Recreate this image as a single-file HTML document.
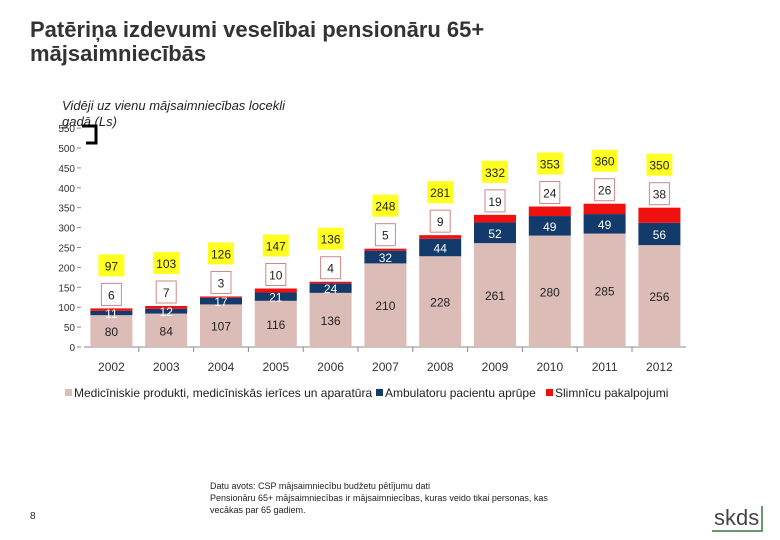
<!DOCTYPE html>
<html><head><meta charset="utf-8"><style>
body{margin:0;background:#fff;width:780px;height:540px;overflow:hidden;font-family:"Liberation Sans",sans-serif;position:relative}
.t{position:absolute}
</style></head><body>
<div class="t" style="left:30px;top:18px;font-size:22px;font-weight:bold;color:#333;line-height:24px">Patēriņa izdevumi veselībai pensionāru 65+<br>mājsaimniecībās</div>
<div class="t" style="left:62px;top:98px;font-size:13px;font-style:italic;color:#222;line-height:16px">Vidēji uz vienu mājsaimniecības locekli<br>gadā (Ls)</div>
<svg class="t" style="left:0;top:0" width="780" height="540">
<g id="g" font-family="Liberation Sans, sans-serif"></g>
</svg>
<div class="t" style="left:210px;top:480px;font-size:9px;color:#222;line-height:12px">Datu avots: CSP mājsaimniecību budžetu pētījumu dati<br>Pensionāru 65+ mājsaimniecības ir mājsaimniecības, kuras veido tikai personas, kas<br>vecākas par 65 gadiem.</div>
<div class="t" style="left:30px;top:511px;font-size:10px;color:#222">8</div>
<div class="t" style="left:712px;top:506px;font-size:22px;color:#444;line-height:24px;border-bottom:2px solid #6a9a6a;border-right:2px solid #6a9a6a;padding:0 2px">skds</div>
<script>
const years=["2002","2003","2004","2005","2006","2007","2008","2009","2010","2011","2012"];
const medical=[80,84,107,116,136,210,228,261,280,285,256];
const outpatient=[11,12,17,21,24,32,44,52,49,49,56];
const hospital=[6,7,3,10,4,5,9,19,24,26,38];
const totals=[97,103,126,147,136,248,281,332,353,360,350];
const yTicks=[0,50,100,150,200,250,300,350,400,450,500,550];
const ns="http://www.w3.org/2000/svg",g=document.getElementById('g');
const y=v=>347-v*0.398, x0=84, step=54.8, x=i=>x0+step*(i+0.5), bw=42;
function el(t,a,txt){const e=document.createElementNS(ns,t);for(const k in a)e.setAttribute(k,a[k]);if(txt!==undefined)e.textContent=txt;g.appendChild(e);return e;}
let ax=el('line',{x1:x0,x2:686,y1:347,y2:347,stroke:'#888'});


yTicks.forEach(v=>{let t=el('text',{x:75,y:y(v)+4,'font-size':10,'text-anchor':'end',fill:'#333'},v);


el('line',{x1:77,x2:81,y1:y(v),y2:y(v),stroke:'#888'});});
years.forEach((yr,i)=>{const cx=x(i),l=cx-bw/2;
let b1=el('rect',{x:l,y:y(medical[i]),width:bw,height:medical[i]*0.398,fill:'#dcbcb6'});


let b2=el('rect',{x:l,y:y(medical[i]+outpatient[i]),width:bw,height:outpatient[i]*0.398,fill:'#123a6a'});


const top=medical[i]+outpatient[i]+hospital[i];
let b3=el('rect',{x:l,y:y(top),width:bw,height:hospital[i]*0.398,fill:'#f01010'});


el('text',{x:cx,y:y(medical[i]/2)+5,'font-size':12,'text-anchor':'middle',fill:'#222'},medical[i]);
el('text',{x:cx,y:y(medical[i]+outpatient[i]/2)+5,'font-size':12,'text-anchor':'middle',fill:'#fff'},outpatient[i]);
const ry=y(top)-13;
el('rect',{x:cx-10,y:ry-12,width:20,height:22,fill:'#fff',stroke:'#c88','stroke-width':1});
el('text',{x:cx,y:ry+4,'font-size':12,'text-anchor':'middle',fill:'#222'},hospital[i]);
const ty=y(top)-42;
let yb=el('rect',{x:cx-13,y:ty-12,width:26,height:22,fill:'#ffff22'});


el('text',{x:cx,y:ty+4,'font-size':12,'text-anchor':'middle',fill:'#222'},totals[i]);
el('text',{x:cx,y:371,'font-size':12,'text-anchor':'middle',fill:'#333'},yr);
if(i>0)el('line',{x1:cx-step/2,x2:cx-step/2,y1:347,y2:352,stroke:'#888'});
});
[[65,'#dcbcb6','Medicīniskie produkti, medicīniskās ierīces un aparatūra'],[376,'#123a6a','Ambulatoru  pacientu aprūpe'],[546,'#f01010','Slimnīcu pakalpojumi']].forEach(d=>{
let r=el('rect',{x:d[0],y:389,width:7,height:7,fill:d[1]});


el('text',{x:d[0]+9,y:397,'font-size':12,fill:'#222'},d[2]);});
el('path',{d:'M82 126 H96 V143 H86',fill:'none',stroke:'#000','stroke-width':3});
</script>
</body></html>
